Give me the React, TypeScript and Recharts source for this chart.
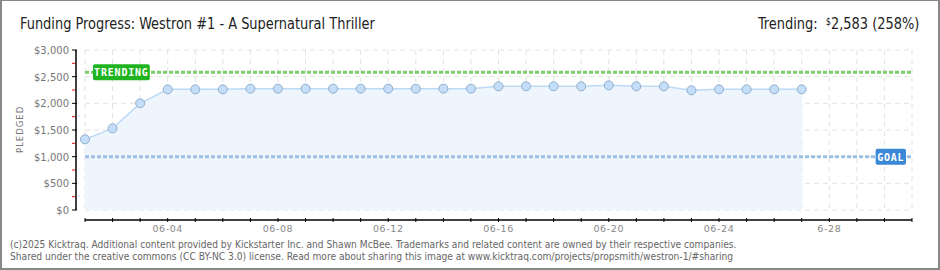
import { ComposedChart, Area, XAxis, YAxis, CartesianGrid, ReferenceLine } from "recharts";

// days of June (1 = 06-01), pledged totals
const days = [1, 2, 3, 4, 5, 6, 7, 8, 9, 10, 11, 12, 13, 14, 15, 16, 17, 18, 19, 20, 21, 22, 23, 24, 25, 26, 27];
const pledged = [
  1325, 1531, 2000, 2262, 2262, 2262, 2275, 2275, 2275, 2275, 2275, 2275, 2275, 2275,
  2275, 2319, 2319, 2319, 2319, 2337, 2319, 2319, 2244, 2262, 2262, 2262, 2262,
];
const dayTicks = [1, 2, 3, 4, 5, 6, 7, 8, 9, 10, 11, 12, 13, 14, 15, 16, 17, 18, 19, 20, 21, 22, 23, 24, 25, 26, 27, 28, 29, 30, 31];
const labelDays = [4, 8, 12, 16, 20, 24, 28];
const yMajor = [0, 500, 1000, 1500, 2000, 2500, 3000];
const yTicks = [0, 250, 500, 750, 1000, 1250, 1500, 1750, 2000, 2250, 2500, 2750, 3000];
const trending = 2583;
const goal = 1000;

const data = days.map((d, i) => ({ day: d, value: pledged[i] }));

const money = (v: number) => "$" + v.toLocaleString("en-US");

const narrow = "'Liberation Sans Narrow', 'DejaVu Sans Condensed', sans-serif";

const YTick = (props: any) => {
  const { x, y, payload } = props;
  const major = payload.value % 500 === 0;
  if (!major) {
    return <line x1={x - 13} x2={x - 10} y1={y} y2={y} stroke="#e01010" strokeWidth={1} />;
  }
  return (
    <g>
      <line x1={x - 13} x2={x - 8} y1={y} y2={y} stroke="#000" strokeWidth={1} />
      <text x={x - 16} y={y + 4} textAnchor="end" fontSize={10} fill="#777" fontFamily="DejaVu Sans">
        {money(payload.value)}
      </text>
    </g>
  );
};

const XTick = (props: any) => {
  const { x, y, payload } = props;
  const d = payload.value;
  const showLabel = labelDays.includes(d);
  const label = d === 28 ? "6-28" : "06-" + String(d).padStart(2, "0");
  return (
    <g>
      <line x1={x} x2={x} y1={y + 8} y2={y + 12} stroke="#000" strokeWidth={1} />
      {showLabel && (
        <text x={x} y={y + 22} textAnchor="middle" fontSize={9.5} fill="#888" letterSpacing={0.6} fontFamily="DejaVu Sans">
          {label}
        </text>
      )}
    </g>
  );
};

const Badge = ({ viewBox, text, color, side }: any) => {
  const w = text.length * 6.6 + 4;
  const bx = side === "left" ? viewBox.x + 8 : viewBox.x + viewBox.width - 6 - w;
  return (
    <g>
      <rect x={bx} y={viewBox.y - 8} width={w} height={16} rx={2} fill={color} />
      <text x={bx + w / 2} y={viewBox.y + 4} textAnchor="middle" fill="#fff" fontSize={10} fontWeight="bold"
        letterSpacing={0.8} fontFamily="DejaVu Sans Mono">
        {text}
      </text>
    </g>
  );
};

export default function App() {
  return (
    <div
      style={{
        position: "absolute",
        left: 0,
        top: 0,
        width: 940,
        height: 270,
        boxSizing: "border-box",
        border: "2px solid #888",
        borderTopWidth: 1,
        background: "#fff",
        overflow: "hidden",
      }}
    >
      <div style={{ position: "absolute", left: 18, top: 13, fontSize: 16, color: "#222", fontFamily: narrow, whiteSpace: "nowrap", transform: "scaleX(0.9)", transformOrigin: "left top" }}>
        Funding Progress: Westron #1 - A Supernatural Thriller
      </div>
      <div style={{ position: "absolute", right: 19, top: 13, fontSize: 16, color: "#222", fontFamily: narrow, whiteSpace: "nowrap", transform: "scaleX(0.9)", transformOrigin: "right top" }}>
        Trending:&nbsp; <span style={{ fontSize: 10, verticalAlign: 4 }}>$</span>2,583 (258%)
      </div>
      <div style={{ position: "absolute", left: 13, top: 152, transform: "rotate(-90deg)", transformOrigin: "left top", fontSize: 8.5, letterSpacing: 1.0, color: "#777", fontFamily: "DejaVu Sans", whiteSpace: "nowrap" }}>
        PLEDGED
      </div>
      <div style={{ position: "absolute", left: -2, top: -1 }}>
        <ComposedChart width={940} height={270} data={data} margin={{ top: 50, right: 28, bottom: 30, left: 8 }}>
          <CartesianGrid
            stroke="#e2e2e2"
            strokeDasharray="5 4"
            horizontalValues={yMajor}
            verticalValues={dayTicks}
          />
          <XAxis
            dataKey="day"
            type="number"
            domain={[1, 31]}
            ticks={dayTicks}
            interval={0}
            height={30}
            tickSize={0}
            tickMargin={0}
            tickLine={false}
            axisLine={{ stroke: "#000", strokeWidth: 1.5, transform: "translate(0,10)" } as any}
            tick={<XTick />}
          />
          <YAxis
            type="number"
            domain={[0, 3000]}
            ticks={yTicks}
            interval={0}
            width={77}
            tickSize={0}
            tickMargin={0}
            tickLine={false}
            axisLine={{ stroke: "#000", strokeWidth: 1.5, transform: "translate(-9,0)" } as any}
            tick={<YTick />}
          />
          <Area
            type="linear"
            dataKey="value"
            stroke="#bcd9f5"
            strokeWidth={1.5}
            fill="#eef5fd"
            fillOpacity={1}
            dot={{ r: 4.5, fill: "#c4def9", stroke: "#8faecb", strokeWidth: 1 }}
            isAnimationActive={false}
          />
          <ReferenceLine
            y={trending}
            stroke="#7ccd6c"
            strokeWidth={3}
            strokeDasharray="4 2"
            label={(p: any) => <Badge {...p} text="TRENDING" color="#1fb41f" side="left" />}
          />
          <ReferenceLine
            y={goal}
            stroke="#9dbfe2"
            strokeWidth={3}
            strokeDasharray="4 2"
            label={(p: any) => <Badge {...p} text="GOAL" color="#3a88d6" side="right" />}
          />
        </ComposedChart>
      </div>
      <div style={{ position: "absolute", left: 8, top: 237, fontSize: 10.5, lineHeight: "12px", color: "#666", fontFamily: narrow, whiteSpace: "nowrap", transform: "scaleX(0.965)", transformOrigin: "left top" }}>
        (c)2025 Kicktraq. Additional content provided by Kickstarter Inc. and Shawn McBee. Trademarks and related content are owned by their respective companies.
        <br />
        Shared under the creative commons (CC BY-NC 3.0) license. Read more about sharing this image at www.kicktraq.com/projects/propsmith/westron-1/#sharing
      </div>
    </div>
  );
}
